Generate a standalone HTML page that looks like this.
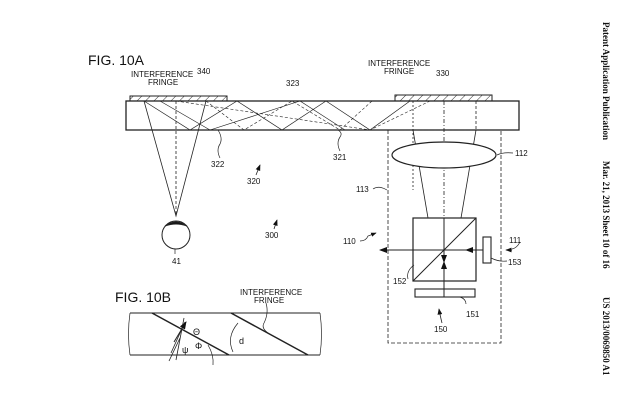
<!DOCTYPE html>
<html><head><style>
body{margin:0;background:#fff;width:640px;height:413px;overflow:hidden}
svg text{font-family:"Liberation Sans",sans-serif;fill:#111}
</style></head><body>
<svg width="640" height="413" viewBox="0 0 640 413" xmlns="http://www.w3.org/2000/svg">
<defs><marker id="a" markerWidth="8" markerHeight="6" refX="7" refY="3" orient="auto"><path d="M0,0 L8,3 L0,6 z" fill="#111"/></marker>
<pattern id="h" width="6" height="6" patternUnits="userSpaceOnUse" patternTransform="rotate(45)"><line x1="0" y1="0" x2="0" y2="6" stroke="#333" stroke-width="1"/></pattern></defs>
<g stroke="#222" fill="none" stroke-width="1">
<text x="88" y="65" font-size="14" stroke="none">FIG. 10A</text>
<text x="131" y="77" font-size="8" stroke="none">INTERFERENCE</text>
<text x="148" y="85" font-size="8" stroke="none">FRINGE</text>
<text x="197" y="74" font-size="8" stroke="none">340</text>
<text x="286" y="86" font-size="8" stroke="none">323</text>
<text x="368" y="66" font-size="8" stroke="none">INTERFERENCE</text>
<text x="384" y="74" font-size="8" stroke="none">FRINGE</text>
<text x="436" y="76" font-size="8" stroke="none">330</text>
<rect x="130" y="96" width="97" height="5" fill="url(#h)"/>
<rect x="395" y="95" width="97" height="6" fill="url(#h)"/>
<rect x="126" y="101" width="393" height="29" fill="none" stroke-width="1.3"/>
<path d="M144,101 L176,216 L206,101" stroke-width="0.8"/>
<path d="M176,101 L176,216" stroke-dasharray="3,2" stroke-width="0.8"/>
<path d="M144,101 L190,130 L237,101 L282,130 L326,101 L370,130 L410,101" stroke-width="0.7"/>
<path d="M206,101 L244,130 L292,101 L340,130 L372,101" stroke-width="0.6" stroke-dasharray="3,2"/>
<path d="M176,101 L370,130 L430,101" stroke-width="0.6" stroke-dasharray="3,2"/>
<path d="M160,101 L210,130 L300,101 L345,130" stroke-width="0.6"/>
<circle cx="176" cy="235" r="14"/>
<path d="M165,226 Q176,218 187,226 Q176,222 165,226z" fill="#111"/>
<text x="172" y="264" font-size="8" stroke="none">41</text>
<path d="M175,249 v5" stroke-width="0.7"/>
<text x="211" y="167" font-size="8" stroke="none">322</text>
<path d="M220,158 q-4,-8 0,-14 q3,-6 -2,-14" stroke-width="0.7"/>
<text x="333" y="160" font-size="8" stroke="none">321</text>
<path d="M340,151 q-4,-8 0,-14 q3,-4 -2,-7" stroke-width="0.7"/>
<text x="247" y="184" font-size="8" stroke="none">320</text>
<path d="M256,175 l4,-10" marker-end="url(#a)" stroke-width="0.8"/>
<text x="265" y="238" font-size="8" stroke="none">300</text>
<path d="M274,229 l3,-9" marker-end="url(#a)" stroke-width="0.8"/>
<rect x="388" y="130" width="113" height="213" stroke-dasharray="4,2" stroke-width="0.8"/>
<path d="M413,101 V190" stroke-dasharray="2,2" stroke-width="0.8"/>
<path d="M444,101 V218" stroke-dasharray="4,2,1,2" stroke-width="0.8"/>
<path d="M476,101 V130" stroke-dasharray="3,2" stroke-width="0.8"/>
<path d="M413,130 L428,218 M476,130 L461,218" stroke-width="0.8"/>
<ellipse cx="444" cy="155" rx="52" ry="13" fill="#fff" stroke-width="1.2"/>
<text x="515" y="156" font-size="8" stroke="none">112</text>
<path d="M497,155 q6,-3 16,-2" stroke-width="0.7"/>
<text x="356" y="192" font-size="8" stroke="none">113</text>
<path d="M373,189 q6,-4 14,1" stroke-width="0.7"/>
<rect x="413" y="218" width="63" height="63" stroke-width="1.2"/>
<path d="M413,281 L476,218 M444,218 V297" stroke-width="1"/>
<path d="M476,250 H380" marker-end="url(#a)" stroke-width="1"/>
<path d="M483,250 H466" marker-end="url(#a)"/>
<path d="M444,290 V262" marker-end="url(#a)"/>
<path d="M444,252 V262" marker-end="url(#a)"/>
<rect x="483" y="237" width="8" height="26" stroke-width="1.1"/>
<rect x="415" y="289" width="60" height="8" stroke-width="1.1"/>
<text x="508" y="265" font-size="8" stroke="none">153</text>
<path d="M491,258 q8,4 16,3" stroke-width="0.7"/>
<text x="509" y="243" font-size="8" stroke="none">111</text>
<path d="M512,250 l-6,0" marker-end="url(#a)" stroke-width="0.8"/>
<path d="M520,242 q-3,6 -8,7" stroke-width="0.7"/>
<text x="343" y="244" font-size="8" stroke="none">110</text>
<path d="M360,241 q6,0 8,-5 l8,-3" stroke-width="0.7" marker-end="url(#a)"/>
<text x="393" y="284" font-size="8" stroke="none">152</text>
<path d="M408,279 q-2,-8 6,-14" stroke-width="0.7"/>
<text x="466" y="317" font-size="8" stroke="none">151</text>
<path d="M466,304 q0,-5 -6,-7" stroke-width="0.7"/>
<text x="434" y="332" font-size="8" stroke="none">150</text>
<path d="M442,323 q-2,-8 -3,-14" stroke-width="0.8" marker-end="url(#a)"/>
<text x="115" y="302" font-size="14" stroke="none">FIG. 10B</text>
<text x="240" y="295" font-size="8" stroke="none">INTERFERENCE</text>
<text x="254" y="303" font-size="8" stroke="none">FRINGE</text>
<path d="M130,313 H320 M130,355 H320" stroke-width="1.1"/>
<path d="M130,313 q-3,21 0,42 M320,313 q3,21 0,42" stroke-width="0.7"/>
<path d="M152,313 L229,355 M231,313 L308,355" stroke-width="1.5"/>
<path d="M266,303 q3,10 -2,20 q-3,5 4,10" stroke-width="0.7"/>
<path d="M238,323 q-12,14 -5,29" stroke-width="0.7"/>
<text x="239" y="344" font-size="9" stroke="none">d</text>
<path d="M180,338 L169,361 M171,353 L185,322 M176,360 L184,318" stroke-width="0.8"/>
<path d="M174,342 L186,322" marker-end="url(#a)"/>
<text x="193" y="335" font-size="9" stroke="none">Θ</text>
<text x="182" y="353" font-size="9" stroke="none">ψ</text>
<text x="195" y="349" font-size="9" stroke="none">Φ</text>
<path d="M208,345 q6,10 5,20" stroke-width="0.7"/>
</g>
<g font-size="9" font-weight="bold" font-family="Liberation Serif,serif">
<text transform="translate(603,22) rotate(90)" style="font-family:'Liberation Serif',serif">Patent Application Publication</text>
<text transform="translate(603,161) rotate(90)" style="font-family:'Liberation Serif',serif">Mar. 21, 2013  Sheet 10 of 16</text>
<text transform="translate(603,297) rotate(90)" style="font-family:'Liberation Serif',serif">US 2013/0069850 A1</text>
</g>
</svg>
</body></html>
